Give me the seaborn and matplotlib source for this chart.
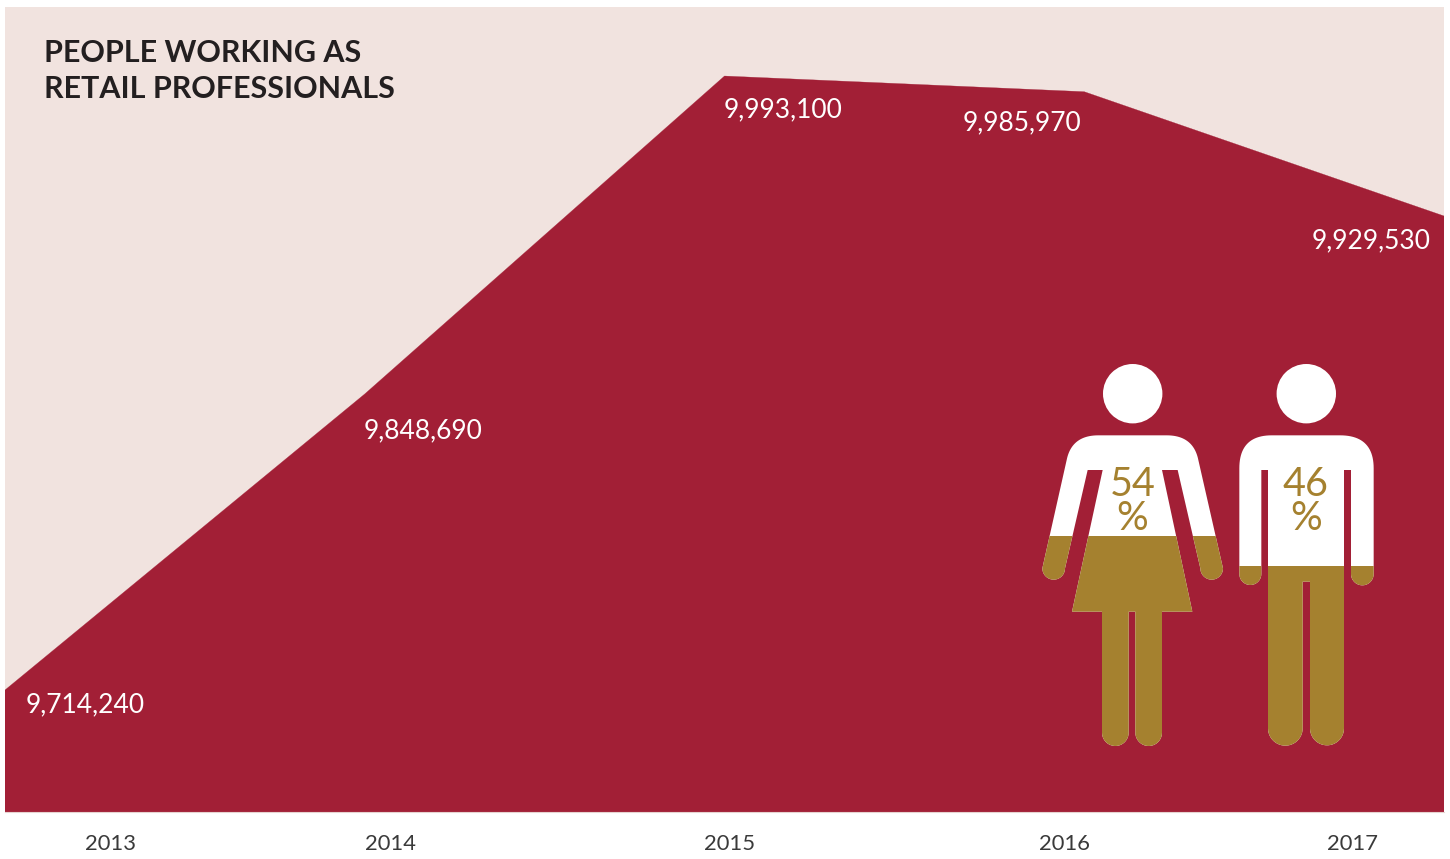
import numpy as np
import pandas as pd
import matplotlib
matplotlib.use("Agg")
import matplotlib.pyplot as plt
from matplotlib.patches import Polygon, Rectangle, Circle
import seaborn as sns

# Retail workforce by year
years = [2013, 2014, 2015, 2016, 2017]
workers = [9714240, 9848690, 9993100, 9985970, 9929530]
year_labels = ["2013", "2014", "2015", "2016", "2017"]
title_lines = ["PEOPLE WORKING AS", "RETAIL PROFESSIONALS"]

# Gender split, in percent
women_share = 54
men_share = 46

RED = "#A21F36"
PANEL = "#F1E3DF"
GOLD = "#A5812F"
INK = "#231F20"

W, H = 1450, 859
PANEL_L, PANEL_R, PANEL_T, PANEL_B = 5, 1444, 7, 812

sns.set_theme(style="white")
plt.rcParams["font.family"] = ["Lato", "DejaVu Sans"]

fig = plt.figure(figsize=(W / 100, H / 100), dpi=100, facecolor="white")
ax = fig.add_axes([PANEL_L / W, 1 - PANEL_B / H,
                   (PANEL_R - PANEL_L) / W, (PANEL_B - PANEL_T) / H])
ax.set_facecolor(PANEL)

df = pd.DataFrame({"year": years, "workers": workers})
sns.lineplot(data=df, x="year", y="workers", color=RED, linewidth=0.2, ax=ax)
ax.fill_between(df["year"], df["workers"], 9_000_000, color=RED, linewidth=0)

ax.set_xlim(2013, 2017)
ax.set_ylim(9658830, 10024440)
ax.set_xlabel("")
ax.set_ylabel("")
ax.set_yticks([])

# Year captions sit under the area, shifted away from the data points
tick_px = np.array([110, 390, 730, 1065, 1352])
tick_pos = 2013 + (tick_px - PANEL_L) / (PANEL_R - PANEL_L) * 4
ax.set_xticks(tick_pos, year_labels)
ax.tick_params(axis="x", length=0, pad=15.5, labelsize=15.8, labelcolor="#3A3A3A")

for side in ("top", "right", "left"):
    ax.spines[side].set_visible(False)
ax.spines["bottom"].set_color("#E6D3D0")
ax.spines["bottom"].set_linewidth(0.8)

# Value captions, offset in pixels from each point
offsets = [(21, -13), (-1, -35), (-1, -32), (-122, -29), (-132, -23)]
for yr, val, (dx, dy) in zip(years, workers, offsets):
    ax.annotate(f"{val:,}", xy=(yr, val), xytext=(dx, dy - 2),
                textcoords="offset pixels", ha="left", va="center",
                color="white", fontsize=19, annotation_clip=False)

# Overlay in pixel coordinates for the title and pictograms
ov = fig.add_axes([0, 0, 1, 1], facecolor="none")
ov.set_xlim(0, W)
ov.set_ylim(H, 0)
ov.axis("off")

ov.text(44, 53.5, title_lines[0], fontsize=21.9, fontweight="bold", color=INK,
        va="center", ha="left")
ov.text(44, 88.5, title_lines[1], fontsize=21.9, fontweight="bold", color=INK,
        va="center", ha="left")


def arc(cx, cy, r, a0=0, a1=180, n=24):
    t = np.radians(np.linspace(a0, a1, n))
    return np.column_stack([cx + r * np.cos(t), cy + r * np.sin(t)])


def quad(p0, c, p1, n=24):
    t = np.linspace(0, 1, n)[:, None]
    p0, c, p1 = map(np.asarray, (p0, c, p1))
    return (1 - t) ** 2 * p0 + 2 * t * (1 - t) * c + t ** 2 * p1


def outline(*parts):
    pts = np.vstack([np.atleast_2d(p) for p in parts]).astype(float)
    return np.column_stack([1030 + pts[:, 0] / 3, 350 + pts[:, 1] / 3])


woman = outline(
    quad((410, 256), (490, 256), (505, 330)),
    arc(545, 655, 34),
    [(443, 360), (396, 360), (487, 785), (396, 785)],
    arc(356, 1148, 40),
    [(316, 785), (296, 785)],
    arc(256, 1148, 40),
    [(216, 785), (126, 785), (218, 360), (173, 360)],
    arc(71, 655, 34),
    quad((110, 330), (125, 256), (205, 256)),
)
man = outline(
    quad((930, 256), (1031, 256), (1031, 355)),
    arc(997, 672, 34),
    [(963, 360), (942, 360)],
    arc(891, 1135, 51),
    [(840, 695), (818, 695)],
    arc(766, 1135, 52),
    [(714, 360), (694, 360)],
    arc(661, 672, 33),
    quad((628, 355), (628, 256), (725, 256)),
)


def figure(shape, head_x, share, label_x):
    # White silhouette, gold up to the level given by the share
    ov.add_patch(Circle((head_x, 393.7), 29.7, fc="white", ec="none"))
    ov.add_patch(Polygon(shape, closed=True, fc="white", ec="none"))
    level = 742.3 - share / 100 * 382.5
    gold = Polygon(shape, closed=True, fc=GOLD, ec="none")
    ov.add_patch(gold)
    clip = Rectangle((1000, level), 420, 800 - level, transform=ov.transData)
    gold.set_clip_path(clip)
    ov.text(label_x, 485, f"{share}", color=GOLD, fontsize=28.5, ha="center",
            va="center")
    ov.text(label_x, 519, "%", color=GOLD, fontsize=28.5, ha="center",
            va="center")


figure(woman, 1132.7, women_share, 1132.5)
figure(man, 1306.3, men_share, 1306)

fig.savefig("out.png", dpi=100, facecolor="white")
